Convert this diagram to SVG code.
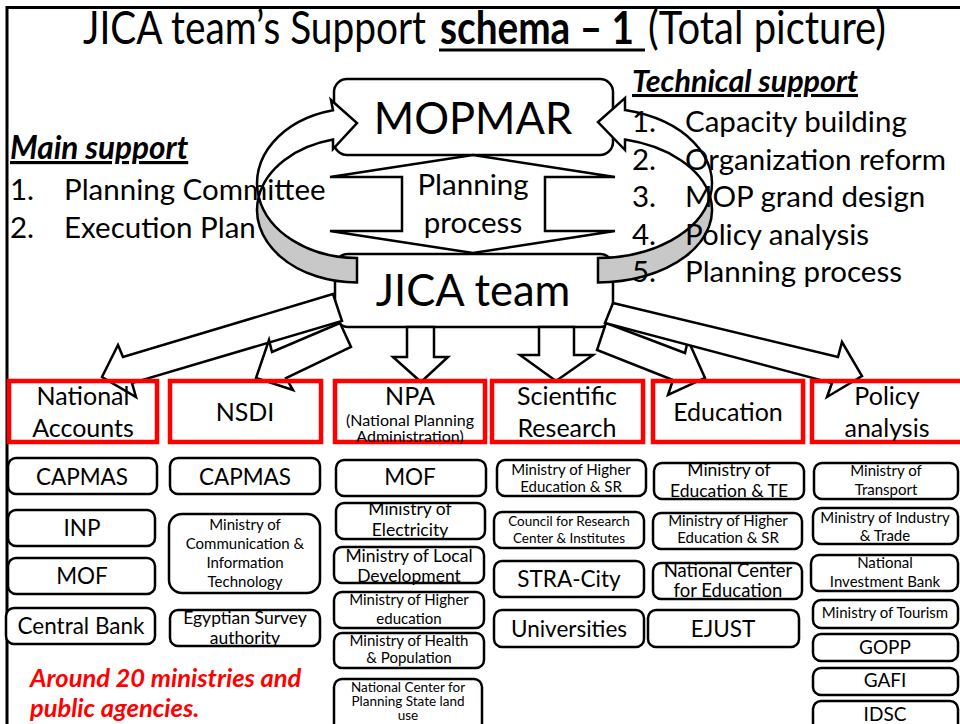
<svg xmlns="http://www.w3.org/2000/svg" width="960" height="724" viewBox="0 0 960 724">
<style>
text{font-family:Lato,"Open Sans","Liberation Sans",sans-serif;fill:#000}
.c{text-anchor:middle}
.big{font-size:43.5px}
.lst{font-size:29.5px}
.cat{font-size:25px}
.f22{font-size:22.5px}
.f17{font-size:17.5px}
.f15{font-size:15px}
.f14{font-size:13.5px}
.f13{font-size:13.5px}
.f19{font-size:19px}
.ttl{font-size:46px}
.cb{fill:none;stroke:#FF0000;stroke-width:4.5}
.bx{fill:#fff;stroke:#000;stroke-width:2.5}
.ar{fill:#fff;stroke:#000;stroke-width:2.5;stroke-linejoin:miter}
.gr{fill:#C8C8C8;stroke:#000;stroke-width:2.5}
.hd{font-weight:bold;font-style:italic;text-decoration:underline}
</style>
<rect x="0" y="0" width="960" height="724" fill="#fff"/>
<path d="M7,724 V7.5 H960" fill="none" stroke="#000" stroke-width="3"/>
<g id="title">
<text class="ttl" x="83" y="44" textLength="343" lengthAdjust="spacingAndGlyphs">JICA team’s Support</text>
<text class="ttl" x="440" y="44" font-weight="bold" textLength="194" lengthAdjust="spacingAndGlyphs">schema – 1</text>
<line x1="439" y1="50" x2="645" y2="50" stroke="#000" stroke-width="3"/>
<text class="ttl" x="648" y="44" textLength="238" lengthAdjust="spacingAndGlyphs">(Total picture)</text>
</g>

<g id="mopmar">
<rect class="bx" x="334" y="79" width="279" height="76" rx="13"/>
<text class="c big" x="473" y="134">MOPMAR</text>
</g>
<g id="jica">
<rect class="bx" x="335" y="254" width="278" height="73" rx="13"/>
<text class="c big" x="473" y="306">JICA team</text>
</g>

<g id="connectors">
<path id="planning-arrow" class="ar" d="M473,155 L615,177 L545,177 L545,231 L615,231 L473,253 L330,231 L402,231 L402,177 L330,177 Z"/>
<path class="gr" d="M357,258 A100,75 0 0,1 258.7,196.7 A100,72.5 0 0,0 357,282.5 Z"/>
<path class="ar" d="M333,139.6 L333,149 L357,123 L331,100 L333,110.2 A100,75 0 0,0 258.7,196.7 A100,72.5 0 0,1 333,139.6 Z"/>
<path class="gr" d="M598,258 A114,75 0 0,0 710.1,196.7 A114,72.5 0 0,1 598,282.5 Z"/>
<path class="ar" d="M625,139.6 L625,150 L598,122 L625,98 L625,110.1 A114,75 0 0,1 710.1,196.7 A114,72.5 0 0,0 625,139.6 Z"/>
<polygon class="ar" points="333,294 123,357 118,345 102,377 136,397 132,383 342,321"/>
<polygon class="ar" points="340,323 272,352 269,340 256,378 293,390 286,378 351,347"/>
<polygon class="ar" points="407,327 434,327 434,357 448,357 421,382 393,357 407,357"/>
<polygon class="ar" points="539,327 574,327 574,355 593,355 556,381 520,355 539,355"/>
<polygon class="ar" points="606,323 685,353 688,340 705,378 668,395 673,380 597,350"/>
<polygon class="ar" points="613,303 838,357 842,342 862,376 827,397 832,383 605,323"/>
</g>

<text class="c lst" x="473" y="195">Planning</text>
<text class="c lst" x="473" y="233">process</text>

<g id="main-support">
<text class="hd" x="10" y="159" font-size="31.5">Main support</text>
<text class="lst" x="10" y="200">1.</text><text class="lst" x="64" y="200">Planning Committee</text>
<text class="lst" x="10" y="238">2.</text><text class="lst" x="64" y="238">Execution Plan</text>
</g>
<g id="technical-support">
<text class="hd" x="632" y="92" font-size="30.5">Technical support</text>
<text class="lst" x="632" y="132">1.</text><text class="lst" x="685" y="132">Capacity building</text>
<text class="lst" x="632" y="170">2.</text><text class="lst" x="685" y="170">Organization reform</text>
<text class="lst" x="632" y="207">3.</text><text class="lst" x="685" y="207">MOP grand design</text>
<text class="lst" x="632" y="245">4.</text><text class="lst" x="685" y="245">Policy analysis</text>
<text class="lst" x="632" y="282">5.</text><text class="lst" x="685" y="282">Planning process</text>
</g>

<g id="cat-national-accounts"><rect class="cb" x="9" y="381" width="148" height="61"/>
<text class="c cat" x="83" y="405">National</text><text class="c cat" x="83" y="437">Accounts</text></g>
<g id="cat-nsdi"><rect class="cb" x="170" y="381" width="151" height="61"/>
<text class="c cat" x="245" y="421">NSDI</text></g>
<g id="cat-npa"><rect class="cb" x="335" y="381" width="150" height="61"/>
<text class="c cat" x="410" y="405">NPA</text>
<text class="c" x="410" y="426" font-size="16">(National Planning</text>
<text class="c" x="410" y="442" font-size="16">Administration)</text></g>
<g id="cat-scientific"><rect class="cb" x="492" y="381" width="151" height="61"/>
<text class="c cat" x="567" y="405">Scientific</text><text class="c cat" x="567" y="437">Research</text></g>
<g id="cat-education"><rect class="cb" x="653" y="381" width="150" height="61"/>
<text class="c cat" x="728" y="421">Education</text></g>
<g id="cat-policy"><rect class="cb" x="812" y="381" width="155" height="61"/>
<text class="c cat" x="887" y="405">Policy</text><text class="c cat" x="887" y="437">analysis</text></g>

<g id="na-capmas"><rect class="bx" x="8" y="458" width="149" height="36" rx="8"/><text class="c f22" x="82" y="485">CAPMAS</text></g>
<g id="na-inp"><rect class="bx" x="8" y="510" width="147" height="36" rx="8"/><text class="c f22" x="82" y="536">INP</text></g>
<g id="na-mof"><rect class="bx" x="8" y="558" width="147" height="36" rx="8"/><text class="c f22" x="82" y="584">MOF</text></g>
<g id="na-central-bank"><rect class="bx" x="6" y="608" width="149" height="36" rx="8"/><text class="c f22" x="81" y="634">Central Bank</text></g>

<g id="nsdi-capmas"><rect class="bx" x="170" y="458" width="150" height="36" rx="8"/><text class="c f22" x="245" y="485">CAPMAS</text></g>
<g id="nsdi-mcit"><rect class="bx" x="169" y="514" width="151" height="79" rx="13"/>
<text class="c f15" x="245" y="530">Ministry of</text><text class="c f15" x="245" y="549">Communication &amp;</text><text class="c f15" x="245" y="568">Information</text><text class="c f15" x="245" y="587">Technology</text></g>
<g id="nsdi-esa"><rect class="bx" x="170" y="610" width="150" height="36" rx="8"/>
<text class="c f17" x="245" y="624">Egyptian Survey</text><text class="c f17" x="245" y="644">authority</text></g>

<g id="npa-mof"><rect class="bx" x="336" y="460" width="150" height="36" rx="8"/><text class="c f22" x="410" y="485">MOF</text></g>
<g id="npa-electricity"><rect class="bx" x="336" y="503" width="149" height="36" rx="8"/>
<text class="c f17" x="410" y="515">Ministry of</text><text class="c f17" x="410" y="536">Electricity</text></g>
<g id="npa-local"><rect class="bx" x="334" y="547" width="150" height="36" rx="8"/>
<text class="c f17" x="409" y="562">Ministry of Local</text><text class="c f17" x="409" y="582">Development</text></g>
<g id="npa-higher"><rect class="bx" x="334" y="592" width="150" height="36" rx="8"/>
<text class="c f15" x="409" y="605">Ministry of Higher</text><text class="c f15" x="409" y="624">education</text></g>
<g id="npa-health"><rect class="bx" x="334" y="633" width="150" height="35" rx="8"/>
<text class="c f15" x="409" y="646">Ministry of Health</text><text class="c f15" x="409" y="663">&amp; Population</text></g>
<g id="npa-ncpslu"><rect class="bx" x="334" y="679" width="148" height="52" rx="8"/>
<text class="c f14" x="408" y="692">National Center for</text><text class="c f14" x="408" y="706">Planning State land</text><text class="c f14" x="408" y="720">use</text></g>

<g id="sr-mhesr"><rect class="bx" x="497" y="460" width="149" height="36" rx="8"/>
<text class="c f15" x="571" y="475">Ministry of Higher</text><text class="c f15" x="571" y="492">Education &amp; SR</text></g>
<g id="sr-council"><rect class="bx" x="494" y="512" width="150" height="36" rx="8"/>
<text class="c f13" x="569" y="526">Council for Research</text><text class="c f13" x="569" y="543">Center &amp; Institutes</text></g>
<g id="sr-stra"><rect class="bx" x="494" y="561" width="150" height="36" rx="8"/><text class="c f22" x="569" y="587">STRA-City</text></g>
<g id="sr-univ"><rect class="bx" x="494" y="610" width="150" height="37" rx="8"/><text class="c f22" x="569" y="637">Universities</text></g>

<g id="ed-mete"><rect class="bx" x="654" y="463" width="150" height="36" rx="8"/>
<text class="c f17" x="729" y="476">Ministry of</text><text class="c f17" x="729" y="497">Education &amp; TE</text></g>
<g id="ed-mhesr"><rect class="bx" x="653" y="513" width="149" height="36" rx="8"/>
<text class="c f15" x="728" y="526">Ministry of Higher</text><text class="c f15" x="728" y="543">Education &amp; SR</text></g>
<g id="ed-nce"><rect class="bx" x="653" y="563" width="149" height="36" rx="8"/>
<text class="c" font-size="18.5" x="728" y="577">National Center</text><text class="c" font-size="18.5" x="728" y="597">for Education</text></g>
<g id="ed-ejust"><rect class="bx" x="648" y="610" width="151" height="37" rx="8"/><text class="c f22" x="723" y="637">EJUST</text></g>

<g id="pa-transport"><rect class="bx" x="814" y="463" width="144" height="36" rx="8"/>
<text class="c f15" x="886" y="476">Ministry of</text><text class="c f15" x="886" y="495">Transport</text></g>
<g id="pa-industry"><rect class="bx" x="813" y="508" width="145" height="36" rx="8"/>
<text class="c f15" x="885" y="523">Ministry of Industry</text><text class="c f15" x="885" y="541">&amp; Trade</text></g>
<g id="pa-nib"><rect class="bx" x="811" y="555" width="147" height="36" rx="8"/>
<text class="c f15" x="885" y="568">National</text><text class="c f15" x="885" y="587">Investment Bank</text></g>
<g id="pa-tourism"><rect class="bx" x="813" y="600" width="145" height="28" rx="8"/><text class="c f15" x="885" y="618">Ministry of Tourism</text></g>
<g id="pa-gopp"><rect class="bx" x="813" y="634" width="145" height="27" rx="8"/><text class="c f19" x="885" y="654">GOPP</text></g>
<g id="pa-gafi"><rect class="bx" x="813" y="668" width="145" height="27" rx="8"/><text class="c f19" x="885" y="687">GAFI</text></g>
<g id="pa-idsc"><rect class="bx" x="813" y="701" width="145" height="30" rx="8"/><text class="c f19" x="885" y="721">IDSC</text></g>

<g id="note">
<text x="30" y="687" font-size="25.5" font-weight="bold" font-style="italic" style="fill:#FF0000">Around 20 ministries and</text>
<text x="30" y="717" font-size="25.5" font-weight="bold" font-style="italic" style="fill:#FF0000">public agencies.</text>
</g>
</svg>
